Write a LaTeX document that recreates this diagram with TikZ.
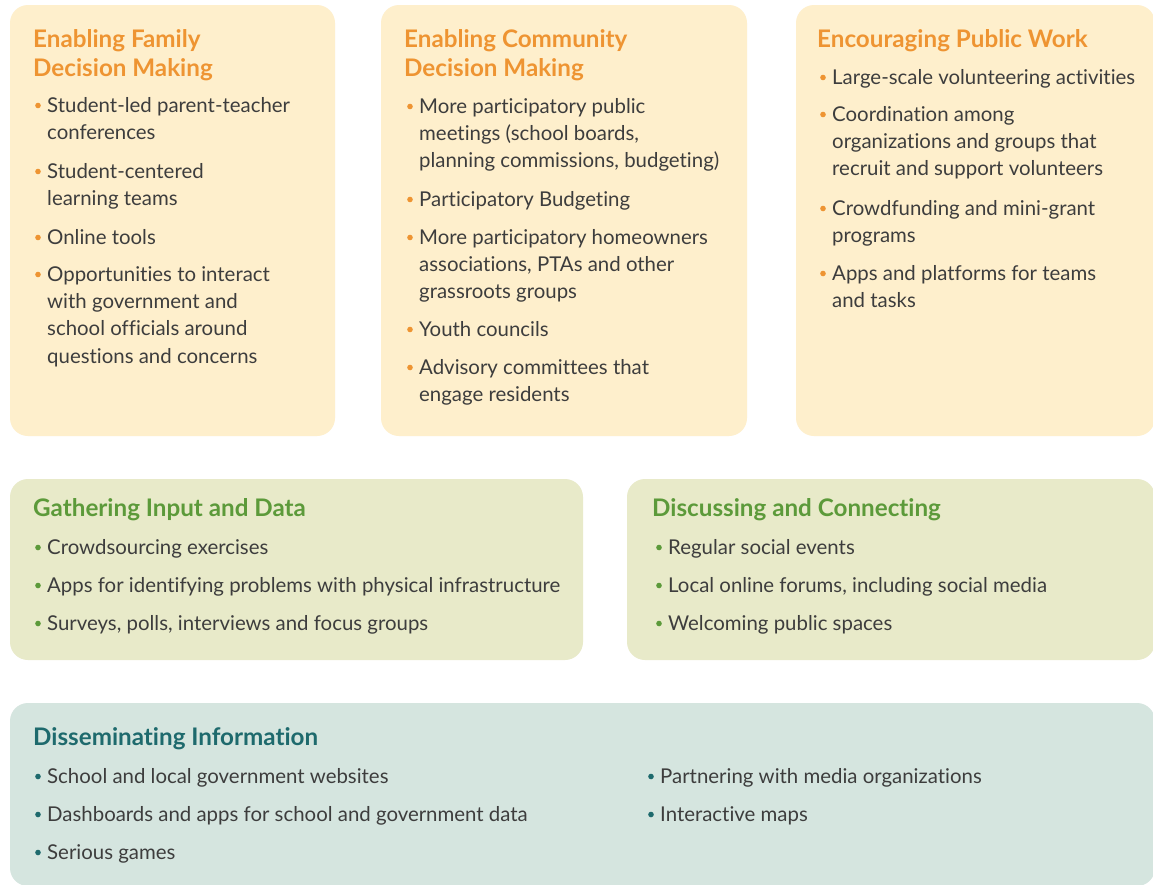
\documentclass[tikz,border=0pt]{standalone}
\usepackage{fontspec}
\setmainfont{Lato}[Ligatures=NoCommon]
\definecolor{sunfill}{HTML}{FEEFCC}
\definecolor{sunhead}{HTML}{EE9432}
\definecolor{leaffill}{HTML}{E8EAC9}
\definecolor{leafhead}{HTML}{5C9A3A}
\definecolor{seafill}{HTML}{D5E5DF}
\definecolor{seahead}{HTML}{1E6A6D}
\definecolor{bodytext}{HTML}{3D3D3D}
\tikzset{
  panel/.style={rounded corners=18pt},
  head/.style={font=\fontsize{24.2}{29}\selectfont\bfseries, inner sep=0pt, anchor=base west},
  body/.style={font=\fontsize{20.4}{27.4}\selectfont, inner sep=0pt, anchor=base west, text=bodytext},
}
% lines stacked from the first baseline down
\newcommand\lines[1]{\begin{tabular}[t]{@{}l@{}}#1\end{tabular}}
% bullet item: name, x, baseline y, bullet colour, text
\newcommand\bulletitem[5]{%
  \fill[#4] (#2-9,#3-6.5) circle (2.8);
  \node[body] (#1) at (#2,#3) {\lines{#5}};}
\begin{document}
\begin{tikzpicture}[x=1pt,y=-1pt]
\useasboundingbox (0,0) rectangle (1153,884);
\fill[white] (0,0) rectangle (1153,884);

% panels
\fill[sunfill, panel] (10,5) rectangle (335,436);
\fill[sunfill, panel] (381,5) rectangle (747,436);
\fill[sunfill, panel] (796,5) rectangle (1155,436);
\fill[leaffill, panel] (10,479) rectangle (583,660);
\fill[leaffill, panel] (627,479) rectangle (1155,660);
\fill[seafill, panel] (10,703) rectangle (1155,886);

% family decision making
\node[head, text=sunhead] (famhead) at (33,47) {\lines{Enabling Family\\Decision Making}};
\bulletitem{fam1}{47}{112}{sunhead}{Student-led parent-teacher\\conferences}
\bulletitem{fam2}{47}{178}{sunhead}{Student-centered\\learning teams}
\bulletitem{fam3}{47}{244}{sunhead}{Online tools}
\bulletitem{fam4}{47}{281}{sunhead}{Opportunities to interact\\with government and\\school officials around\\questions and concerns}

% community decision making
\node[head, text=sunhead] (comhead) at (404,47) {\lines{Enabling Community\\Decision Making}};
\bulletitem{com1}{419}{113}{sunhead}{More participatory public\\meetings (school boards,\\planning commissions, budgeting)}
\bulletitem{com2}{419}{206}{sunhead}{Participatory Budgeting}
\bulletitem{com3}{419}{244}{sunhead}{More participatory homeowners\\associations, PTAs and other\\grassroots groups}
\bulletitem{com4}{419}{336}{sunhead}{Youth councils}
\bulletitem{com5}{419}{374}{sunhead}{Advisory committees that\\engage residents}

% public work
\node[head, text=sunhead] (pubhead) at (817,47) {Encouraging Public Work};
\bulletitem{pub1}{832}{84}{sunhead}{Large-scale volunteering activities}
\bulletitem{pub2}{832}{121}{sunhead}{Coordination among\\organizations and groups that\\recruit and support volunteers}
\bulletitem{pub3}{832}{215}{sunhead}{Crowdfunding and mini-grant\\programs}
\bulletitem{pub4}{832}{280}{sunhead}{Apps and platforms for teams\\and tasks}

% input and data
\node[head, text=leafhead] (inphead) at (33,516) {Gathering Input and Data};
\bulletitem{inp1}{47}{554}{leafhead}{Crowdsourcing exercises}
\bulletitem{inp2}{47}{592}{leafhead}{Apps for identifying problems with physical infrastructure}
\bulletitem{inp3}{47}{630}{leafhead}{Surveys, polls, interviews and focus groups}

% discussing and connecting
\node[head, text=leafhead] (dishead) at (652,516) {Discussing and Connecting};
\bulletitem{dis1}{668}{554}{leafhead}{Regular social events}
\bulletitem{dis2}{668}{592}{leafhead}{Local online forums, including social media}
\bulletitem{dis3}{668}{630}{leafhead}{Welcoming public spaces}

% disseminating information
\node[head, text=seahead] (semhead) at (33,745) {Disseminating Information};
\bulletitem{sem1}{47}{783}{seahead}{School and local government websites}
\bulletitem{sem2}{47}{821}{seahead}{Dashboards and apps for school and government data}
\bulletitem{sem3}{47}{859}{seahead}{Serious games}
\bulletitem{sem4}{660}{783}{seahead}{Partnering with media organizations}
\bulletitem{sem5}{660}{821}{seahead}{Interactive maps}
\end{tikzpicture}
\end{document}
